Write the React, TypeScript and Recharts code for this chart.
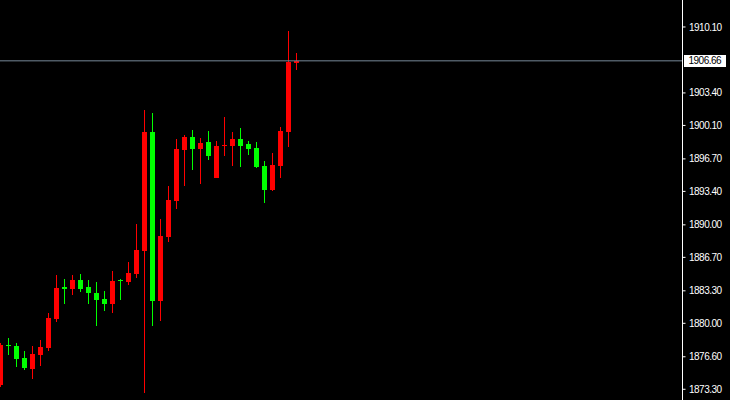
import { Bar, BarChart, Cell, ReferenceLine, XAxis, YAxis } from "recharts"

// candles, oldest first (red = rising, green = falling)
const opens = [
  1873.74, 1877.8, 1877.7, 1876.48, 1875.36, 1876.78, 1877.52, 1880.44, 1883.69, 1883.49,
  1884.4, 1883.69, 1883.08, 1882.47, 1881.96, 1884.3, 1884.23, 1885.04, 1887.38, 1899.43,
  1882.3, 1888.8, 1892.45, 1897.64, 1898.93, 1897.74, 1898.42, 1894.79, 1898.01, 1898.04,
  1898.72, 1898.21, 1897.81, 1895.98, 1893.54, 1896.01, 1899.46, 1906.49,
]
const highs = [
  1878.0, 1878.51, 1878.0, 1877.19, 1877.7, 1878.31, 1881.05, 1884.91, 1884.5, 1884.91,
  1885.01, 1884.4, 1884.2, 1883.28, 1885.31, 1884.5, 1886.23, 1890.09, 1901.67, 1901.36,
  1890.6, 1893.95, 1898.72, 1899.13, 1899.64, 1898.82, 1899.53, 1898.52, 1900.96, 1899.43,
  1899.84, 1898.52, 1898.42, 1896.49, 1897.3, 1899.94, 1909.69, 1907.46,
]
const lows = [
  1873.53, 1876.78, 1875.56, 1875.26, 1874.35, 1875.67, 1877.22, 1880.13, 1881.96, 1882.88,
  1883.18, 1881.96, 1879.73, 1881.25, 1881.05, 1882.37, 1883.92, 1884.63, 1872.95, 1879.76,
  1880.27, 1888.29, 1891.64, 1893.98, 1895.6, 1894.18, 1896.62, 1894.76, 1897.03, 1896.01,
  1895.91, 1897.13, 1895.81, 1892.25, 1893.44, 1894.79, 1897.94, 1905.73,
]
const closes = [
  1877.8, 1877.65, 1876.41, 1875.49, 1876.88, 1877.6, 1880.54, 1883.59, 1883.49, 1884.4,
  1883.49, 1883.08, 1882.37, 1881.96, 1884.3, 1884.25, 1885.11, 1887.45, 1899.43, 1882.3,
  1888.87, 1892.53, 1897.71, 1898.93, 1897.74, 1898.32, 1897.03, 1898.01, 1898.08, 1898.72,
  1898.04, 1897.74, 1895.91, 1893.57, 1896.08, 1899.53, 1906.54, 1906.66,
]

const priceTicks = [
  1873.3, 1876.6, 1880.0, 1883.3, 1886.7, 1890.0, 1893.4, 1896.7, 1900.1, 1903.4, 1910.1,
]
const lastPrice = 1906.66
const slots = 85 // visible bar slots, the rest of the chart is empty space

const data = Array.from({ length: slots }, (_, i) => {
  if (i >= opens.length) return { t: i, wick: null, body: null, up: true }
  const o = opens[i]
  const c = closes[i]
  return {
    t: i,
    wick: [lows[i], highs[i]],
    body: [Math.min(o, c), Math.max(o, c)],
    up: c >= o,
  }
})

const RED = "#ff0000"
const GREEN = "#00ff00"
const FONT = "'Liberation Sans', Arial, sans-serif"

function PriceTag(props: any) {
  const vb = props.viewBox || {}
  const x = vb.x + vb.width + 1
  const y = vb.y
  return (
    <g>
      <rect x={x} y={y - 6} width={42} height={12} fill="#ffffff" shapeRendering="crispEdges" />
      <text
        x={x + 5}
        y={y}
        dy="0.355em"
        fontSize={10}
        letterSpacing={-0.5}
        fontFamily={FONT}
        fill="#000000"
      >
        {lastPrice.toFixed(2)}
      </text>
    </g>
  )
}

// plain rect so thin wicks stay sharp
function Candle(props: any) {
  const { x, y, width, height, fill } = props
  if (x == null || !height) return null
  return <rect x={x} y={y} width={width} height={Math.max(height, 1)} fill={fill} shapeRendering="crispEdges" />
}

export default function App() {
  return (
    <div style={{ position: "fixed", left: 0, top: 0, width: 730, height: 400, background: "#000" }}>
      <BarChart
        width={730}
        height={400}
        data={data}
        margin={{ top: 0, right: 0, bottom: 0, left: -4.5 }}
        style={{ background: "#000" }}
      >
        <XAxis xAxisId="wick" dataKey="t" type="category" hide padding={{ left: 0, right: 7 }} />
        <XAxis xAxisId="body" dataKey="t" type="category" hide padding={{ left: 0, right: 7 }} />
        <YAxis
          orientation="right"
          width={47.5}
          type="number"
          domain={[1872.21, 1912.84]}
          allowDataOverflow
          ticks={priceTicks}
          interval={0}
          tickFormatter={(v) => Number(v).toFixed(2)}
          axisLine={{ stroke: "#ffffff" }}
          tickLine={{ stroke: "#ffffff" }}
          tickSize={3}
          tickMargin={3.5}
          tick={{ fill: "#ffffff", fontSize: 10, letterSpacing: -0.5, fontFamily: FONT, textAnchor: "start" }}
        />
        <ReferenceLine
          xAxisId="body"
          y={lastPrice}
          stroke="#778899"
          strokeWidth={1}
          label={(p: any) => <PriceTag {...p} />}
        />
        <Bar xAxisId="wick" dataKey="wick" barSize={1} shape={<Candle />} isAnimationActive={false}>
          {data.map((d, i) => (
            <Cell key={i} fill={d.up ? RED : GREEN} />
          ))}
        </Bar>
        <Bar xAxisId="body" dataKey="body" barSize={5} minPointSize={1} shape={<Candle />} isAnimationActive={false}>
          {data.map((d, i) => (
            <Cell key={i} fill={d.up ? RED : GREEN} />
          ))}
        </Bar>
      </BarChart>
    </div>
  )
}
